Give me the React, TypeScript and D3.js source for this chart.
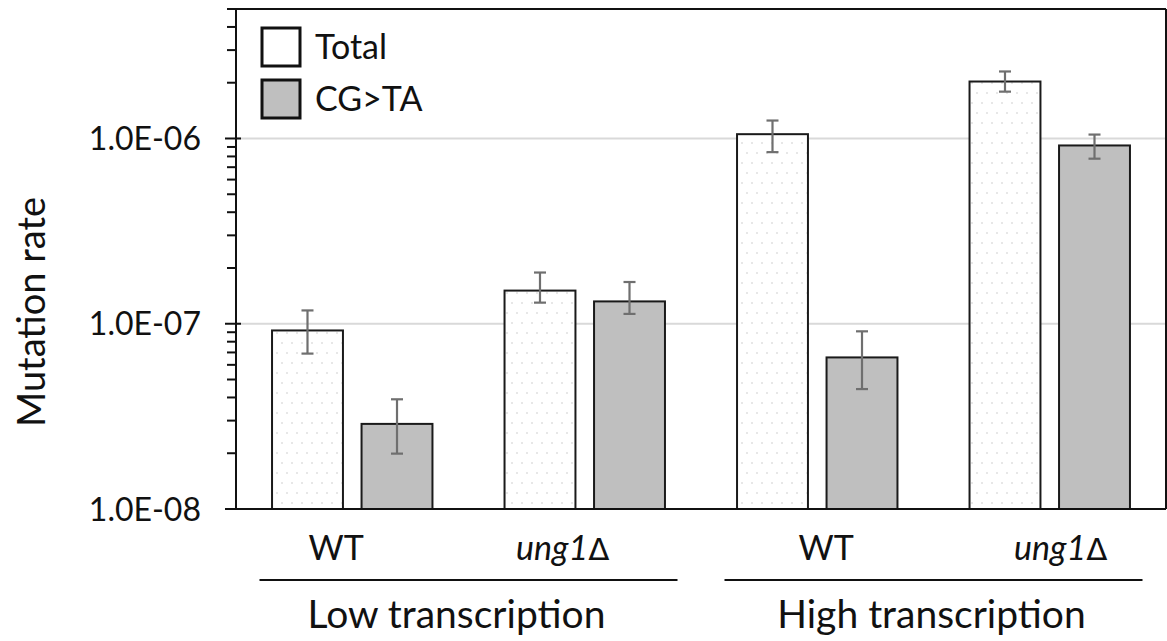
import React from 'react';
import * as d3 from 'd3';

const groups = ['Low transcription', 'High transcription'];
const strains = ['WT', 'ung1', 'WT', 'ung1'];
const italicStrain = [false, true, false, true];
const seriesNames = ['Total', 'CG>TA'];

// values per cluster (Low WT, Low ung1, High WT, High ung1)
const totalRate = [9.2e-8, 1.51e-7, 1.055e-6, 2.03e-6];
const totalLow = [6.9e-8, 1.3e-7, 8.44e-7, 1.79e-6];
const totalHigh = [1.18e-7, 1.89e-7, 1.25e-6, 2.3e-6];
const cgtaRate = [2.88e-8, 1.32e-7, 6.58e-8, 9.17e-7];
const cgtaLow = [1.99e-8, 1.13e-7, 4.44e-8, 7.78e-7];
const cgtaHigh = [3.91e-8, 1.68e-7, 9.1e-8, 1.05e-6];

const yTickLabels = ['1.0E-08', '1.0E-07', '1.0E-06'];
const yTickValues = [1e-8, 1e-7, 1e-6];

const W = 1167;
const H = 641;
const left = 236;
const right = 1166;
const top = 9;
const bottom = 509;
const FONT = 'Lato, "Open Sans", sans-serif';
// small hand-tuned shifts of strain labels, as in the original figure
const labelShift = [-16, -22, 9, 11];

export default function App() {
  const x = d3.scaleBand<number>().domain(d3.range(4)).range([left, right]).padding(0);
  const y = d3.scaleLog().domain([1e-8, 5e-6]).range([bottom, top]);
  const bw = x.bandwidth();
  const barW = bw * 0.305;
  const inner = bw * 0.155;
  const gap = bw - 2 * inner - 2 * barW;

  const minorTicks = y.ticks().filter((t) => !yTickValues.some((v) => Math.abs(v - t) / v < 1e-6));

  const bars: { cx: number; v: number; lo: number; hi: number; s: number }[] = [];
  for (let i = 0; i < 4; i++) {
    const x0 = x(i)! + inner;
    bars.push({ cx: x0, v: totalRate[i], lo: totalLow[i], hi: totalHigh[i], s: 0 });
    bars.push({ cx: x0 + barW + gap, v: cgtaRate[i], lo: cgtaLow[i], hi: cgtaHigh[i], s: 1 });
  }

  return (
    <svg width={W} height={H} style={{ position: 'absolute', left: 0, top: 0, background: '#fff' }} fontFamily={FONT}>
      <defs>
        <pattern id="dots" width={10} height={20} patternUnits="userSpaceOnUse">
          <rect width={10} height={20} fill="#fff" />
          <circle cx={2} cy={3} r={1} fill="#e0e0e0" />
          <circle cx={7} cy={13} r={1} fill="#e0e0e0" />
        </pattern>
      </defs>

      {/* grid */}
      {yTickValues.slice(1).map((v) => (
        <line key={v} x1={left} x2={right} y1={y(v)} y2={y(v)} stroke="#d9d9d9" strokeWidth={2} />
      ))}

      {/* bars */}
      {bars.map((b, i) => (
        <rect
          key={i}
          x={b.cx}
          y={y(b.v)}
          width={barW}
          height={bottom - y(b.v)}
          fill={b.s === 0 ? 'url(#dots)' : '#bfbfbf'}
          stroke="#1a1a1a"
          strokeWidth={2}
        />
      ))}

      {/* error bars */}
      {bars.map((b, i) => {
        const cx = b.cx + barW / 2;
        return (
          <g key={i} stroke="#6f6f6f" strokeWidth={2.2}>
            <line x1={cx} x2={cx} y1={y(b.hi)} y2={y(b.lo)} />
            <line x1={cx - 6} x2={cx + 6} y1={y(b.hi)} y2={y(b.hi)} />
            <line x1={cx - 6} x2={cx + 6} y1={y(b.lo)} y2={y(b.lo)} />
          </g>
        );
      })}

      {/* frame */}
      <line x1={left} x2={right} y1={top} y2={top} stroke="#111" strokeWidth={2} />
      <line x1={right} x2={right} y1={top} y2={bottom} stroke="#111" strokeWidth={2} />
      <line x1={225} x2={right} y1={bottom} y2={bottom} stroke="#111" strokeWidth={2} />
      <line x1={left} x2={left} y1={top} y2={bottom} stroke="#111" strokeWidth={2} />

      {/* y ticks */}
      {yTickValues.map((v, i) => (
        <g key={v}>
          <line x1={225} x2={241} y1={y(v)} y2={y(v)} stroke="#111" strokeWidth={2} />
          <text x={201} y={y(v)} dy="0.36em" textAnchor="end" fontSize={32} fill="#111">
            {yTickLabels[i]}
          </text>
        </g>
      ))}
      {minorTicks.map((v) => (
        <line key={v} x1={227} x2={left} y1={y(v)} y2={y(v)} stroke="#111" strokeWidth={2} />
      ))}

      <text
        transform={`translate(31,${(top + bottom) / 2 + 53}) rotate(-90)`}
        textAnchor="middle"
        dy="0.36em"
        fontSize={38}
        fill="#111"
      >
        Mutation rate
      </text>

      {/* x labels */}
      {strains.map((s, i) => (
        <text
          key={i}
          x={x(i)! + bw / 2 + labelShift[i]}
          y={560}
          textAnchor="middle"
          fontSize={34}
          fill="#111"
        >
          <tspan fontStyle={italicStrain[i] ? 'italic' : 'normal'}>{s}</tspan>
          {italicStrain[i] ? <tspan fontFamily='"DejaVu Sans", sans-serif' fontSize={31}>Δ</tspan> : null}
        </text>
      ))}
      {groups.map((g, gi) => {
        const cx = (x(gi * 2)! + x(gi * 2 + 1)! + bw) / 2;
        return (
          <g key={g}>
            <line x1={cx - 209} x2={cx + 209} y1={580} y2={580} stroke="#111" strokeWidth={2} />
            <text x={cx - 12 + gi * 10} y={628} textAnchor="middle" fontSize={39} fill="#111">
              {g}
            </text>
          </g>
        );
      })}

      {/* legend */}
      {seriesNames.map((n, i) => (
        <g key={n} transform={`translate(262,${28 + i * 52})`}>
          <rect width={38} height={38} fill={i === 0 ? '#fff' : '#bfbfbf'} stroke="#111" strokeWidth={3} />
          <text x={53} y={19} dy="0.36em" fontSize={34} fill="#111">
            {n}
          </text>
        </g>
      ))}
    </svg>
  );
}
